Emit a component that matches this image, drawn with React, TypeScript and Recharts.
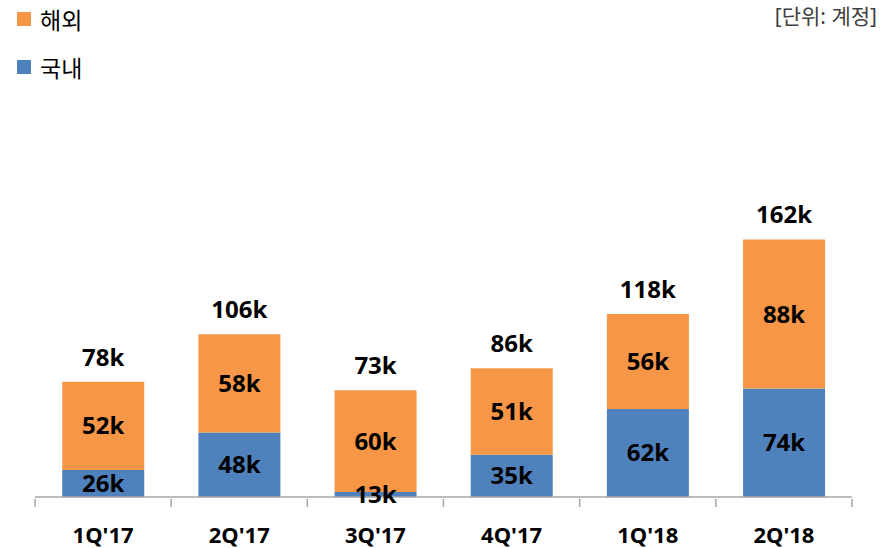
import { BarChart, Bar, XAxis, YAxis, LabelList, Legend } from 'recharts';

const quarters = ["1Q'17", "2Q'17", "3Q'17", "4Q'17", "1Q'18", "2Q'18"];
const domestic = [26, 48, 13, 35, 62, 74];
const overseas = [52, 58, 60, 51, 56, 88];
const totals = [78, 106, 73, 86, 118, 162];

const chartData = quarters.map((quarter, i) => ({
  quarter,
  domestic: domestic[i],
  overseas: overseas[i],
  total: totals[i],
}));

const BLUE = '#4F81BD';
const ORANGE = '#F79646';
const AXIS = '#A6A6A6';
const FONT = "'Noto Sans', 'Noto Sans CJK KR', sans-serif";

const W = 893;
const H = 548;
const margin = { top: 209, right: 41, left: 35, bottom: 0 };
const BAND = (W - margin.left - margin.right) / quarters.length;

const fmt = (v: any) => `${v}k`;

// ticks sit on the category boundaries, labels at the centre
const QuarterTick = (props: any) => {
  const { x, y, payload, index } = props;
  return (
    <g>
      <line x1={x - BAND / 2} y1={y} x2={x - BAND / 2} y2={y + 8} stroke={AXIS} strokeWidth={1.5} />
      {index === quarters.length - 1 && (
        <line x1={x + BAND / 2} y1={y} x2={x + BAND / 2} y2={y + 8} stroke={AXIS} strokeWidth={1.5} />
      )}
      <text
        x={x}
        y={y + 44}
        textAnchor="middle"
        fontFamily={FONT}
        fontWeight="bold"
        fontSize={22}
        fill="#000"
      >
        {payload.value}
      </text>
    </g>
  );
};

const LegendBox = (props: any) => {
  const items = [...(props.payload || [])].reverse();
  return (
    <div style={{ display: 'flex', flexDirection: 'column', gap: 20, paddingTop: 5, paddingLeft: 17, fontFamily: FONT }}>
      {items.map((it: any) => (
        <div key={it.value} style={{ display: 'flex', alignItems: 'center', height: 28 }}>
          <span style={{ width: 14, height: 14, background: it.color, display: 'inline-block', marginRight: 9 }} />
          <span style={{ fontSize: 23, color: '#000' }}>{it.value}</span>
        </div>
      ))}
    </div>
  );
};

export default function App() {
  return (
    <div style={{ position: 'absolute', left: 0, top: 0, width: W, height: H, background: '#fff' }}>
      <div
        style={{
          position: 'absolute',
          top: 0,
          right: 16,
          fontFamily: FONT,
          fontSize: 21,
          color: '#404040',
          zIndex: 2,
        }}
      >
        [단위: 계정]
      </div>
      <BarChart width={W} height={H} data={chartData} margin={margin} barCategoryGap="20%">
        <XAxis
          dataKey="quarter"
          height={51}
          interval={0}
          tickSize={0}
          tickLine={false}
          axisLine={{ stroke: AXIS, strokeWidth: 1.5 }}
          tick={<QuarterTick />}
        />
        <YAxis hide type="number" domain={[10, 180]} allowDataOverflow />
        <Legend
          layout="vertical"
          align="center"
          verticalAlign="middle"
          wrapperStyle={{ top: 0, left: 0, width: 200 }}
          content={<LegendBox />}
        />
        <Bar dataKey="domestic" name="국내" stackId="a" fill={BLUE} isAnimationActive={false}>
          <LabelList
            dataKey="domestic"
            position="center"
            formatter={fmt}
            fill="#000"
            fontFamily={FONT}
            fontWeight="bold"
            fontSize={24}
          />
        </Bar>
        <Bar dataKey="overseas" name="해외" stackId="a" fill={ORANGE} isAnimationActive={false}>
          <LabelList
            dataKey="overseas"
            position="center"
            formatter={fmt}
            fill="#000"
            fontFamily={FONT}
            fontWeight="bold"
            fontSize={24}
          />
          <LabelList
            dataKey="total"
            position="top"
            offset={16}
            formatter={fmt}
            fill="#000"
            fontFamily={FONT}
            fontWeight="bold"
            fontSize={24}
          />
        </Bar>
      </BarChart>
    </div>
  );
}
